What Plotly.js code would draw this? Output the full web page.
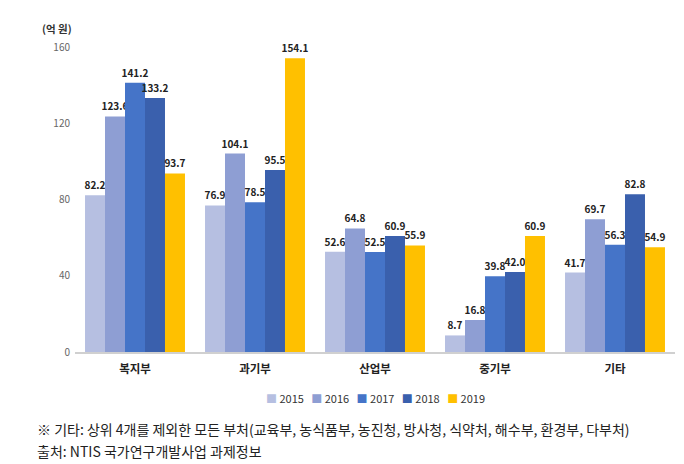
<!DOCTYPE html>
<html><head><meta charset="utf-8">
<script src="https://cdn.plot.ly/plotly-3.0.1.min.js"></script>
<style>html,body{margin:0;padding:0;background:#fff;}#chart{width:684px;height:464px;}</style>
</head><body><div id="chart"></div>
<script>
const categories = ['복지부','과기부','산업부','중기부','기타'];
const years = ['2015','2016','2017','2018','2019'];
const v2015 = [82.2, 76.9, 52.6, 8.7, 41.7];
const v2016 = [123.6, 104.1, 64.8, 16.8, 69.7];
const v2017 = [141.2, 78.5, 52.5, 39.8, 56.3];
const v2018 = [133.2, 95.5, 60.9, 42.0, 82.8];
const v2019 = [93.7, 154.1, 55.9, 60.9, 54.9];
const yTicks = [0, 40, 80, 120, 160];
const series = [v2015, v2016, v2017, v2018, v2019];
const colors = ['#b6bfe1', '#8e9ed3', '#4574c8', '#3a60ad', '#ffc000'];
const FONT = '"Noto Sans CJK KR", "Noto Sans", sans-serif';

const traces = series.map((vals, i) => ({
  type: 'bar', name: years[i], x: categories, y: vals,
  marker: {color: colors[i]},
  text: vals.map(v => v.toFixed(1)), textposition: 'outside', cliponaxis: false,
  constraintext: 'none',
  textfont: {family: FONT, size: 10, color: '#222'},
  texttemplate: '<b>%{text}</b>', hoverinfo: 'none', showlegend: false
}));

const legendText = years.map((y, i) =>
  `<span style="color:${colors[i]}">■</span> ${y}`).join('&nbsp;&nbsp;&nbsp;');

const layout = {
  width: 684, height: 464,
  margin: {l: 75, r: 9, t: 47, b: 112},
  paper_bgcolor: '#fff', plot_bgcolor: '#fff',
  barmode: 'group', bargap: 0.167, bargroupgap: 0,
  showlegend: false,
  xaxis: {showline: true, linecolor: '#d0d0d0', linewidth: 1.5, ticks: '',
    ticklabelstandoff: 6,
    tickfont: {family: FONT, size: 11.5, color: '#222', weight: 'bold'}, fixedrange: true},
  yaxis: {range: [0, 160], tickvals: yTicks, ticktext: yTicks.map(String), showgrid: false,
    zeroline: false, showline: false, ticks: '', ticklen: 0, ticklabelstandoff: 4,
    tickfont: {family: FONT, size: 10, color: '#666'}},
  font: {family: FONT},
  annotations: [
    {text: '<b>(억 원)</b>', xref: 'paper', yref: 'paper', x: -0.03, y: 1.06, xanchor: 'center', yanchor: 'middle',
      showarrow: false, font: {family: FONT, size: 10.5, color: '#333'}},
    {text: legendText, xref: 'paper', yref: 'paper', x: 0.5, y: -0.15, xanchor: 'center', yanchor: 'middle',
      showarrow: false, font: {family: FONT, size: 11, color: '#333'}},
    {text: '※ 기타: 상위 4개를 제외한 모든 부처(교육부, 농식품부, 농진청, 방사청, 식약처, 해수부, 환경부, 다부처)',
      xref: 'paper', yref: 'paper', x: -0.067, y: -0.253, xanchor: 'left', yanchor: 'middle',
      showarrow: false, font: {family: FONT, size: 14, color: '#222'}},
    {text: '출처: NTIS 국가연구개발사업 과제정보',
      xref: 'paper', yref: 'paper', x: -0.067, y: -0.325, xanchor: 'left', yanchor: 'middle',
      showarrow: false, font: {family: FONT, size: 14, color: '#222'}}
  ]
};
Plotly.newPlot('chart', traces, layout, {displayModeBar: false, staticPlot: true});
</script></body></html>
